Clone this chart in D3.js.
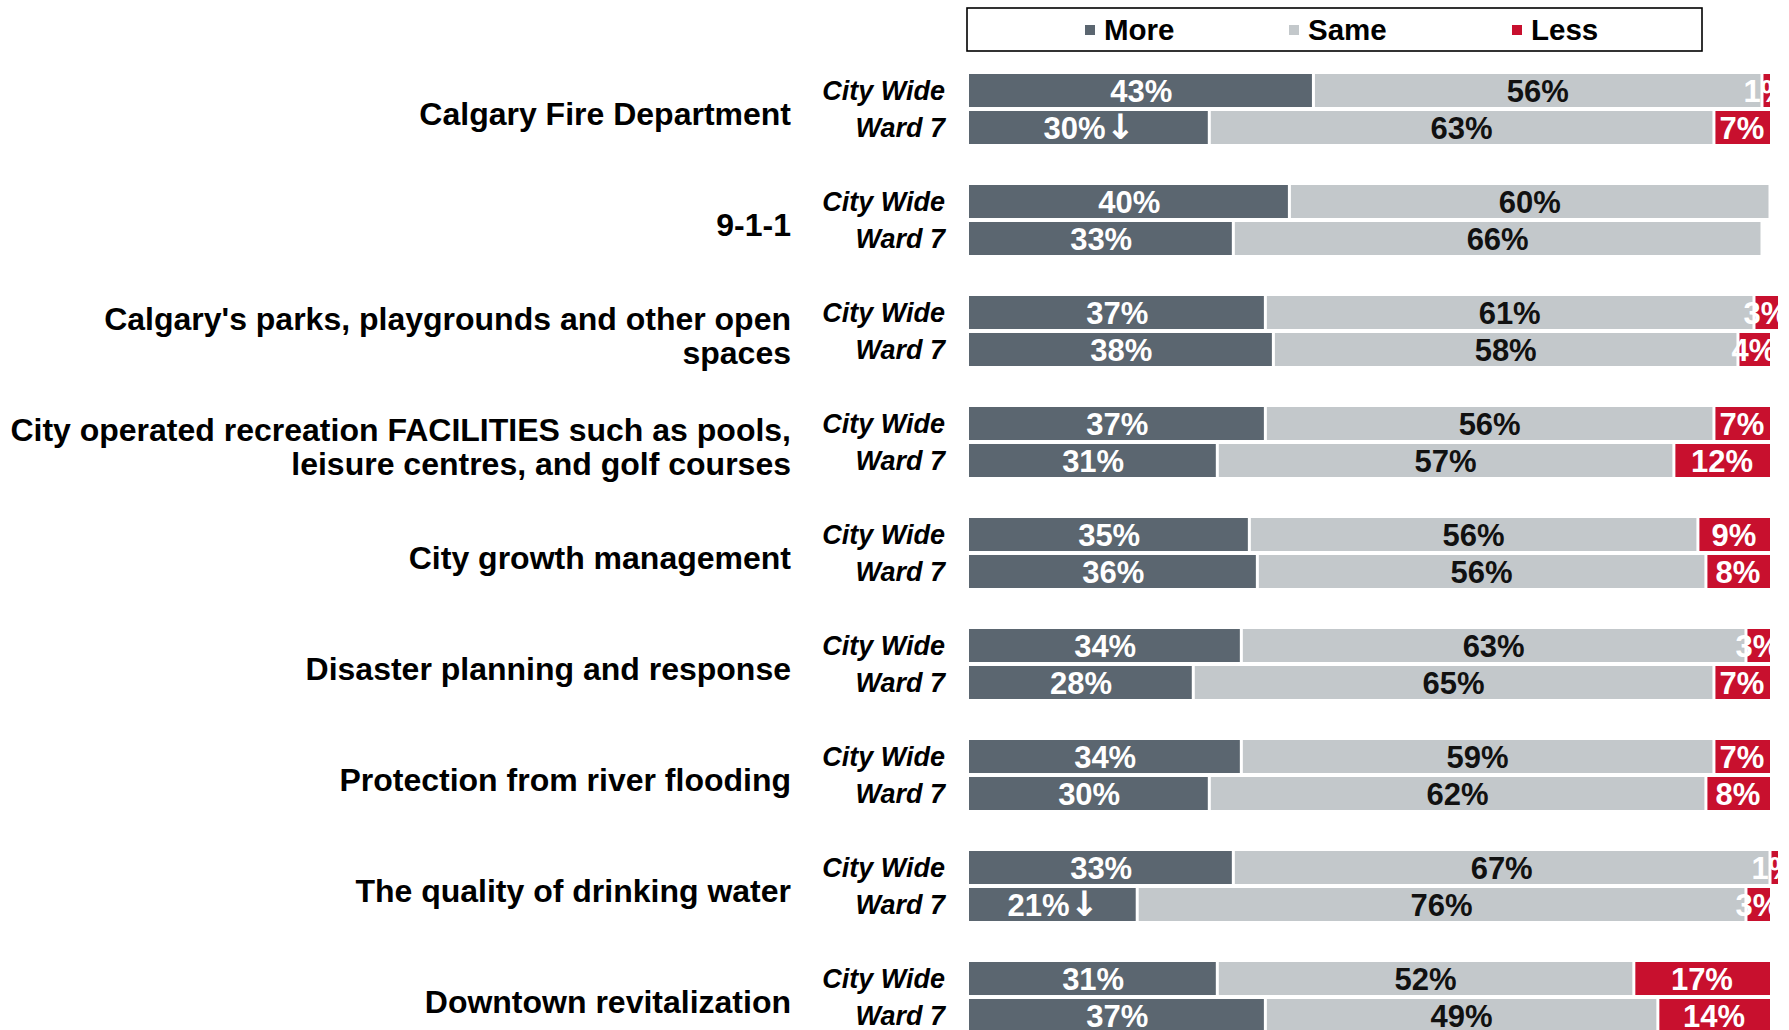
<!DOCTYPE html>
<html><head><meta charset="utf-8">
<script src="https://cdn.jsdelivr.net/npm/d3@7"></script>
<style>
body{margin:0;background:#fff}
svg{display:block}
text{font-family:"Liberation Sans",Arial,Helvetica,sans-serif;font-weight:bold}
</style>
</head><body><svg id="c" width="1789" height="1030"></svg>
<script>
// ---------- data ----------
const categories = [
  ["Calgary Fire Department"],
  ["9-1-1"],
  ["Calgary's parks, playgrounds and other open", "spaces"],
  ["City operated recreation FACILITIES such as pools,", "leisure centres, and golf courses"],
  ["City growth management"],
  ["Disaster planning and response"],
  ["Protection from river flooding"],
  ["The quality of drinking water"],
  ["Downtown revitalization"]
];
const rows = ["City Wide", "Ward 7"];
const series = ["More", "Same", "Less"];
const cityMore = [43, 40, 37, 37, 35, 34, 34, 33, 31];
const citySame = [56, 60, 61, 56, 56, 63, 59, 67, 52];
const cityLess = [1, 0, 3, 7, 9, 3, 7, 1, 17];
const wardMore = [30, 33, 38, 31, 36, 28, 30, 21, 37];
const wardSame = [63, 66, 58, 57, 56, 65, 62, 76, 49];
const wardLess = [7, 0, 4, 12, 8, 7, 8, 3, 14];
const wardDown = [true, false, false, false, false, false, false, true, false];

const colors = ["#5b6670", "#c3c8cb", "#c8102e"];
const labelColors = ["#ffffff", "#111111", "#ffffff"];

// ---------- scales ----------
const svg = d3.select("#c");
const x = d3.scaleLinear().domain([0, 100]).range([969, 1770]);
const yGroup = d3.scaleBand().domain(d3.range(categories.length)).range([74, 74 + categories.length * 111]).padding(0);
const yRow = d3.scaleBand().domain(rows).range([0, 70]).paddingInner(0.108).paddingOuter(0);
const color = d3.scaleOrdinal().domain(series).range(colors);

const data = [];
categories.forEach((c, i) => {
  const vals = [[cityMore[i], citySame[i], cityLess[i]], [wardMore[i], wardSame[i], wardLess[i]]];
  rows.forEach((r, ri) => {
    let cum = 0;
    vals[ri].forEach((v, si) => {
      data.push({cat: i, row: r, s: series[si], si, v, start: cum, end: cum + v,
                 down: ri === 1 && wardDown[i]});
      cum += v;
    });
  });
});

// ---------- legend ----------
const legend = svg.append("g");
legend.append("rect").attr("x", 967).attr("y", 8).attr("width", 735).attr("height", 43)
  .attr("fill", "none").attr("stroke", "#000").attr("stroke-width", 1.6);
const legX = [1085, 1289, 1512];
series.forEach((s, i) => {
  legend.append("rect").attr("x", legX[i]).attr("y", 25).attr("width", 10).attr("height", 10).attr("fill", color(s));
  legend.append("text").attr("x", legX[i] + 19).attr("y", 40).attr("font-size", 29.5).attr("fill", "#000").text(s);
});

// ---------- category labels ----------
categories.forEach((lines, i) => {
  const cy = yGroup(i) + 35 + 5;
  const lh = 34;
  const t = svg.append("text").attr("x", 791).attr("text-anchor", "end").attr("font-size", 32).attr("fill", "#000");
  lines.forEach((ln, k) => {
    t.append("tspan").attr("x", 791)
      .attr("y", cy + (k - (lines.length - 1) / 2) * lh)
      .attr("dy", "0.35em").text(ln);
  });
  rows.forEach(r => {
    svg.append("text").attr("x", 945).attr("y", yGroup(i) + yRow(r) + yRow.bandwidth() / 2)
      .attr("dy", "0.35em").attr("text-anchor", "end").attr("font-size", 27)
      .attr("font-style", "italic").attr("fill", "#000").text(r);
  });
});

// ---------- bars ----------
const segs = data.filter(d => d.v > 0);
svg.append("g").selectAll("rect").data(segs).join("rect")
  .attr("x", d => x(d.start) + (d.si > 0 ? 1.5 : 0))
  .attr("y", d => yGroup(d.cat) + yRow(d.row))
  .attr("width", d => Math.max(1, x(d.end) - x(d.start) - (d.si > 0 ? 1.5 : 0) - (d.si < 2 ? 1.5 : 0)))
  .attr("height", yRow.bandwidth())
  .attr("fill", d => color(d.s));

const lbl = svg.append("g").selectAll("text").data(segs).join("text")
  .attr("x", d => (x(d.start) + x(d.end)) / 2)
  .attr("y", d => yGroup(d.cat) + yRow(d.row) + yRow.bandwidth() / 2)
  .attr("dy", "0.36em")
  .attr("text-anchor", "middle")
  .attr("font-size", 31)
  .attr("fill", d => labelColors[d.si]);
lbl.append("tspan").text(d => d.v + "%");
lbl.filter(d => d.si === 0 && d.down).append("tspan")
  .style("font-family", "'DejaVu Sans', sans-serif").style("font-weight", "bold")
  .attr("font-size", 35)
  .text("\u2193");
</script>
</body></html>
